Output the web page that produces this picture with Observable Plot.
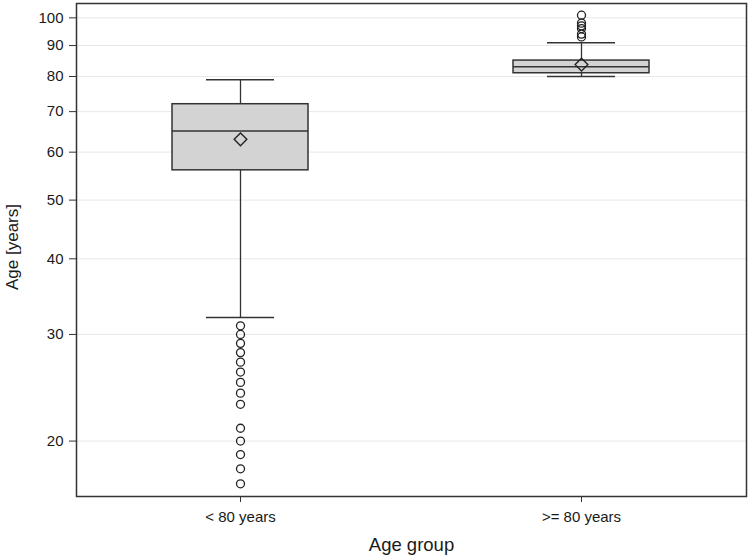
<!DOCTYPE html>
<html>
<head>
<meta charset="utf-8">
<script src="https://cdn.jsdelivr.net/npm/d3@7"></script>
<script src="https://cdn.jsdelivr.net/npm/@observablehq/plot@0.6"></script>
<style>
  html, body { margin: 0; padding: 0; background: white; }
</style>
</head>
<body>
<div id="chart"></div>
<script>
// Categories
const groups = ["< 80 years", ">= 80 years"];
// Box statistics per group
const whiskerLow = [32, 80];
const q1 = [56, 81];
const median = [65, 83];
const q3 = [72, 85];
const whiskerHigh = [79, 91];
const mean = [63, 83.7];
// Outliers per group
const outliersYoung = [31, 30, 29, 28, 27, 26, 25, 24, 23, 21, 20, 19, 18, 17];
const outliersOld = [101, 98, 97, 96, 94, 93];
// Y tick labels
const yTicks = [20, 30, 40, 50, 60, 70, 80, 90, 100];

const boxes = groups.map((g, i) => ({
  group: g, lo: whiskerLow[i], q1: q1[i], med: median[i], q3: q3[i], hi: whiskerHigh[i], mean: mean[i]
}));
const outliers = [
  ...outliersYoung.map(v => ({group: groups[0], value: v})),
  ...outliersOld.map(v => ({group: groups[1], value: v}))
];

const ink = "#333333";

const chart = Plot.plot({
  width: 750,
  height: 558,
  marginLeft: 76,
  marginRight: 4,
  marginTop: 3,
  marginBottom: 62,
  style: {fontFamily: "'Liberation Sans', Arial, sans-serif", color: "#1a1a1a", background: "white"},
  x: {type: "band", domain: groups, paddingInner: 0.6, paddingOuter: 0.28, axis: null},
  y: {type: "log", domain: [16.2, 105.6], axis: null},
  marks: [
    Plot.gridY({ticks: yTicks, stroke: "#e8e8e8", strokeOpacity: 1}),
    Plot.axisY({ticks: yTicks, tickFormat: d => String(d), tickSize: 7, tickPadding: 6, fontSize: 15, label: null, stroke: ink}),
    Plot.axisX({tickSize: 6, tickPadding: 9, fontSize: 15, label: null, stroke: ink}),
    Plot.ruleX(boxes, {x: "group", y1: "lo", y2: "hi", stroke: ink, strokeWidth: 1.3}),
    Plot.barY(boxes, {x: "group", y1: "q1", y2: "q3", fill: "#d3d3d3", stroke: ink, strokeWidth: 1.5}),
    Plot.tickY(boxes, {x: "group", y: "med", stroke: ink, strokeWidth: 1.5}),
    Plot.tickY(boxes, {x: "group", y: "lo", stroke: ink, strokeWidth: 1.5, insetLeft: 34, insetRight: 34}),
    Plot.tickY(boxes, {x: "group", y: "hi", stroke: ink, strokeWidth: 1.5, insetLeft: 34, insetRight: 34}),
    Plot.dot(boxes, {x: "group", y: "mean", symbol: "diamond2", r: 5.7, fill: "none", stroke: "#222", strokeWidth: 1.4}),
    Plot.dot(outliers, {x: "group", y: "value", r: 4, fill: "none", stroke: "#222", strokeWidth: 1.3}),
    Plot.frame({stroke: ink, strokeWidth: 1.5}),
    Plot.text(["Age [years]"], {frameAnchor: "left", textAnchor: "middle", dx: -64, dy: -3, rotate: -90, fontSize: 17, fill: "#1a1a1a"}),
    Plot.text(["Age group"], {frameAnchor: "bottom", dy: 54, fontSize: 18.5, fill: "#1a1a1a"})
  ]
});
document.getElementById("chart").appendChild(chart);
</script>
</body>
</html>
